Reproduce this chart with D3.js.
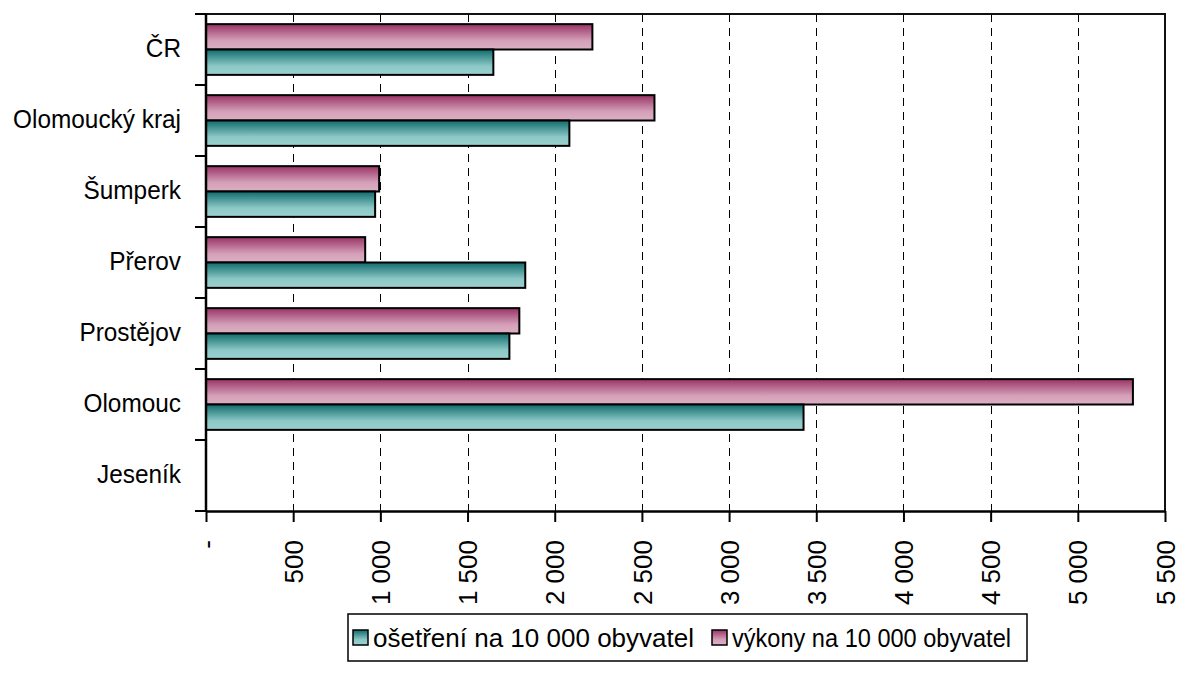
<!DOCTYPE html>
<html>
<head>
<meta charset="utf-8">
<script src="https://cdn.jsdelivr.net/npm/d3@7"></script>
<style>
  html, body { margin: 0; padding: 0; background: #fff; }
  svg { display: block; }
  text { font-family: "Liberation Sans", Arial, sans-serif; fill: #000; }
</style>
</head>
<body>
<svg id="chart" width="1177" height="675"></svg>
<script>
const categories = ["ČR", "Olomoucký kraj", "Šumperk", "Přerov", "Prostějov", "Olomouc", "Jeseník"];
const seriesNames = ["výkony na 10 000 obyvatel", "ošetření na 10 000 obyvatel"];
const vykony   = [2216, 2572, 993, 913, 1797, 5316, 0];
const osetreni = [1648, 2084, 970, 1831, 1740, 3427, 0];
const tickValues = [0, 500, 1000, 1500, 2000, 2500, 3000, 3500, 4000, 4500, 5000, 5500];
const legendOrder = ["ošetření na 10 000 obyvatel", "výkony na 10 000 obyvatel"];

const svg = d3.select("#chart");
const pLeft = 206, pRight = 1165, pTop = 14, pBottom = 511;

const x = d3.scaleLinear().domain([0, 5500]).range([pLeft, pRight]);
const y = d3.scaleBand().domain(categories).range([pTop, pBottom]).padding(0);
const sub = d3.scaleBand().domain(seriesNames).range([0, y.bandwidth()]).paddingInner(0).paddingOuter(0.4);

// gradients
const defs = svg.append("defs");
function grad(id, c1, c2, c3) {
  const g = defs.append("linearGradient").attr("id", id).attr("x1", 0).attr("y1", 0).attr("x2", 0).attr("y2", 1);
  g.append("stop").attr("offset", "0%").attr("stop-color", c1);
  g.append("stop").attr("offset", "65%").attr("stop-color", c2);
  g.append("stop").attr("offset", "100%").attr("stop-color", c3);
}
grad("gPink", "#993366", "#d4a0b8", "#dcb0c4");
grad("gTeal", "#0f6b6b", "#8cc8c6", "#9ad2d0");
const fills = { "výkony na 10 000 obyvatel": "url(#gPink)", "ošetření na 10 000 obyvatel": "url(#gTeal)" };
const values = { "výkony na 10 000 obyvatel": vykony, "ošetření na 10 000 obyvatel": osetreni };

// gridlines
svg.append("g").selectAll("line").data(tickValues.filter(v => v > 0 && v < 5500)).join("line")
  .attr("x1", d => Math.round(x(d)) + 0.5).attr("x2", d => Math.round(x(d)) + 0.5)
  .attr("y1", pTop).attr("y2", pBottom)
  .attr("stroke", "#000").attr("stroke-width", 1).attr("stroke-dasharray", "8,6");

// frame top/right
svg.append("path")
  .attr("d", `M${pLeft},${pTop}H${pRight}V${pBottom}`)
  .attr("fill", "none").attr("stroke", "#111").attr("stroke-width", 2);

// bars
seriesNames.forEach(s => {
  svg.append("g").selectAll("rect").data(categories.map((c, i) => ({ c, v: values[s][i] })).filter(d => d.v > 0)).join("rect")
    .attr("x", x(0))
    .attr("y", d => y(d.c) + sub(s))
    .attr("width", d => x(d.v) - x(0))
    .attr("height", sub.bandwidth())
    .attr("fill", fills[s])
    .attr("stroke", "#000").attr("stroke-width", 2);
});

// y axis
const yAxis = svg.append("g");
yAxis.append("line").attr("x1", pLeft).attr("x2", pLeft).attr("y1", pTop).attr("y2", pBottom + 1)
  .attr("stroke", "#000").attr("stroke-width", 2.5);
const yTicks = categories.map(c => y(c)).concat([pBottom]);
yAxis.selectAll("line.t").data(yTicks).join("line").attr("class", "t")
  .attr("x1", pLeft - 11).attr("x2", pLeft).attr("y1", d => d).attr("y2", d => d)
  .attr("stroke", "#000").attr("stroke-width", 2);
yAxis.selectAll("g.lab").data(categories).join("g").attr("class", "lab")
  .attr("transform", d => `translate(181,${y(d) + y.bandwidth() / 2 + 1}) scale(0.92,1)`)
  .append("text")
  .attr("text-anchor", "end").attr("dominant-baseline", "middle")
  .attr("font-size", 26.5).text(d => d);

// x axis
const xAxisG = svg.append("g").attr("transform", `translate(0,${pBottom})`)
  .call(d3.axisBottom(x).tickValues(tickValues).tickSize(11).tickSizeOuter(0)
    .tickFormat(d => d === 0 ? "-" : d3.format(",")(d).replace(/,/g, " ")));
xAxisG.select(".domain").attr("stroke", "#000").attr("stroke-width", 2.5);
xAxisG.selectAll(".tick line").attr("stroke", "#000").attr("stroke-width", 2);
xAxisG.selectAll(".tick text")
  .attr("font-size", 26).attr("font-family", "Liberation Sans, Arial, sans-serif").attr("fill", "#000")
  .attr("text-anchor", "end")
  .attr("transform", "rotate(-90)")
  .attr("x", -29).attr("y", 0).attr("dy", "0.35em");

// legend
const lg = svg.append("g");
const lgTop = 614, lgBottom = 661, lgLeft = 348, lgRight = 1027;
const legendTextWidths = [321, 279];
lg.append("rect").attr("x", lgLeft).attr("y", lgTop).attr("width", lgRight - lgLeft).attr("height", lgBottom - lgTop)
  .attr("fill", "#fff").attr("stroke", "#000").attr("stroke-width", 1.5);
let cx = lgLeft + 5;
legendOrder.forEach((s, i) => {
  lg.append("rect").attr("x", cx).attr("y", 630).attr("width", 15).attr("height", 15)
    .attr("fill", fills[s]).attr("stroke", "#000").attr("stroke-width", 1.5);
  lg.append("text").attr("x", cx + 20).attr("y", 647).attr("font-size", 25)
    .attr("textLength", legendTextWidths[i]).attr("lengthAdjust", "spacingAndGlyphs").text(s);
  cx = cx + 20 + legendTextWidths[i] + 18;
});
</script>
</body>
</html>
